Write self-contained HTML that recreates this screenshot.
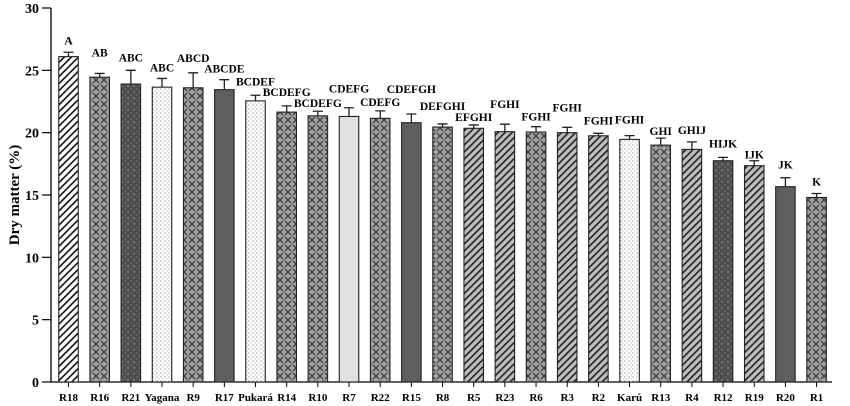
<!DOCTYPE html>
<html><head><meta charset="utf-8"><style>
html,body{margin:0;padding:0;background:#fff;}
svg{display:block;font-family:"Liberation Serif",serif;font-weight:bold;}
</style></head><body>
<svg id="chart" width="850" height="406" viewBox="0 0 850 406" xmlns="http://www.w3.org/2000/svg">
<defs>
<pattern id="p-diagw" width="5" height="5" patternUnits="userSpaceOnUse" patternTransform="rotate(45)">
  <rect width="5" height="5" fill="#fff"/><rect width="1.6" height="5" fill="#111"/></pattern>
<pattern id="p-diagg" width="5" height="5" patternUnits="userSpaceOnUse" patternTransform="rotate(45)">
  <rect width="5" height="5" fill="#bdbdbd"/><rect width="1.6" height="5" fill="#222"/></pattern>
<pattern id="p-cross" width="8" height="8" patternUnits="userSpaceOnUse">
  <rect width="8" height="8" fill="#a2a2a2"/>
  <path d="M0 0L8 8M8 0L0 8" stroke="#3a3a3a" stroke-width="1.3"/>
  <circle cx="4" cy="4" r="1.6" fill="#8a8a8a"/></pattern>
<pattern id="p-darkdot" width="6" height="6" patternUnits="userSpaceOnUse">
  <rect width="6" height="6" fill="#4e4e4e"/><circle cx="2" cy="2" r="0.7" fill="#aaa"/><circle cx="5" cy="5" r="0.6" fill="#888"/></pattern>
<pattern id="p-whitedot" width="4" height="4" patternUnits="userSpaceOnUse">
  <rect width="4" height="4" fill="#fff"/><circle cx="1" cy="1" r="0.55" fill="#444"/><circle cx="3" cy="3" r="0.45" fill="#777"/></pattern>
</defs>
<g id="axes"></g>
<g id="bars"></g>
</svg>
<script>
const categories = ["R18","R16","R21","Yagana","R9","R17","Pukará","R14","R10","R7","R22","R15","R8","R5","R23","R6","R3","R2","Karú","R13","R4","R12","R19","R20","R1"];
const values = [26.1,24.45,23.9,23.65,23.6,23.45,22.55,21.65,21.35,21.3,21.15,20.8,20.45,20.35,20.08,20.05,20.0,19.75,19.46,19.0,18.66,17.75,17.35,15.67,14.8];
const errors = [0.35,0.3,1.1,0.7,1.2,0.8,0.45,0.5,0.37,0.7,0.6,0.7,0.25,0.27,0.6,0.43,0.43,0.2,0.3,0.56,0.6,0.27,0.4,0.72,0.32];
const letters = ["A","AB","ABC","ABC","ABCD","ABCDE","BCDEF","BCDEFG","BCDEFG","CDEFG","CDEFG","CDEFGH","DEFGHI","EFGHI","FGHI","FGHI","FGHI","FGHI","FGHI","GHI","GHIJ","HIJK","IJK","JK","K"];
const yTicks = [0,5,10,15,20,25,30];
// styling / layout (not data)
const fills = ["url(#p-diagw)","url(#p-cross)","url(#p-darkdot)","url(#p-whitedot)","url(#p-cross)","#5e5e5e","url(#p-whitedot)","url(#p-cross)","url(#p-cross)","#e0e0e0","url(#p-cross)","#5e5e5e","url(#p-cross)","url(#p-diagg)","url(#p-diagg)","url(#p-cross)","url(#p-diagg)","url(#p-diagg)","url(#p-whitedot)","url(#p-cross)","url(#p-diagg)","url(#p-darkdot)","url(#p-diagg)","#5e5e5e","url(#p-cross)"];
const labelGap = [8,17,9,7,11,7,10,10,4,15,5,21,14,4,16,6,16,9,12,3,8,10,2,9,8];

const NS="http://www.w3.org/2000/svg";
const X0=51, Y0=382, YTOP=8, XEND=832, first=68.5, step=31.17, bw=19.5;
const yScale=v=>Y0-(Y0-YTOP)*v/30;
const xScale=i=>first+i*step;
function mk(tag,attrs,parent){const e=document.createElementNS(NS,tag);for(const k in attrs)e.setAttribute(k,attrs[k]);parent.appendChild(e);return e;}
const axes=document.getElementById('axes'), bars=document.getElementById('bars');

const yAxis=mk('line',{x1:X0,y1:YTOP,x2:X0,y2:Y0,stroke:'#000','stroke-width':1.3},axes);


const xAxis=mk('line',{x1:X0,y1:Y0,x2:XEND,y2:Y0,stroke:'#000','stroke-width':1.3},axes);


yTicks.forEach(t=>{
  const y=yScale(t);
  const tk=mk('line',{x1:X0-9,y1:y,x2:X0,y2:y,stroke:'#000','stroke-width':1.2},axes);
  
  
  const tl=mk('text',{x:X0-12,y:y+5,'text-anchor':'end','font-size':14},axes);
  tl.textContent=t;
  
  
});
const yt=mk('text',{x:0,y:0,'text-anchor':'middle','font-size':15,transform:'translate(19,'+((YTOP+Y0)/2)+') rotate(-90)'},axes);
yt.textContent='Dry matter (%)';



categories.forEach((c,i)=>{
  const cx=xScale(i), top=yScale(values[i]), cap=yScale(values[i]+errors[i]);
  const r=mk('rect',{x:cx-bw/2,y:top,width:bw,height:Y0-top,fill:fills[i],stroke:'#222','stroke-width':1.1},bars);
  
  
  const eb=mk('path',{d:'M'+cx+' '+top+'V'+cap+'M'+(cx-5)+' '+cap+'H'+(cx+5),stroke:'#222','stroke-width':1.3,fill:'none'},bars);
  
  
  const lt=mk('text',{x:cx,y:cap-labelGap[i],'text-anchor':'middle','font-size':11.5},bars);
  lt.textContent=letters[i];
  
  
  const xt=mk('line',{x1:cx,y1:Y0,x2:cx,y2:Y0+5,stroke:'#000','stroke-width':1},axes);
  
  
  const xl=mk('text',{x:cx,y:401,'text-anchor':'middle','font-size':11},axes);
  xl.textContent=c;
  
  
});
</script>
</body></html>
